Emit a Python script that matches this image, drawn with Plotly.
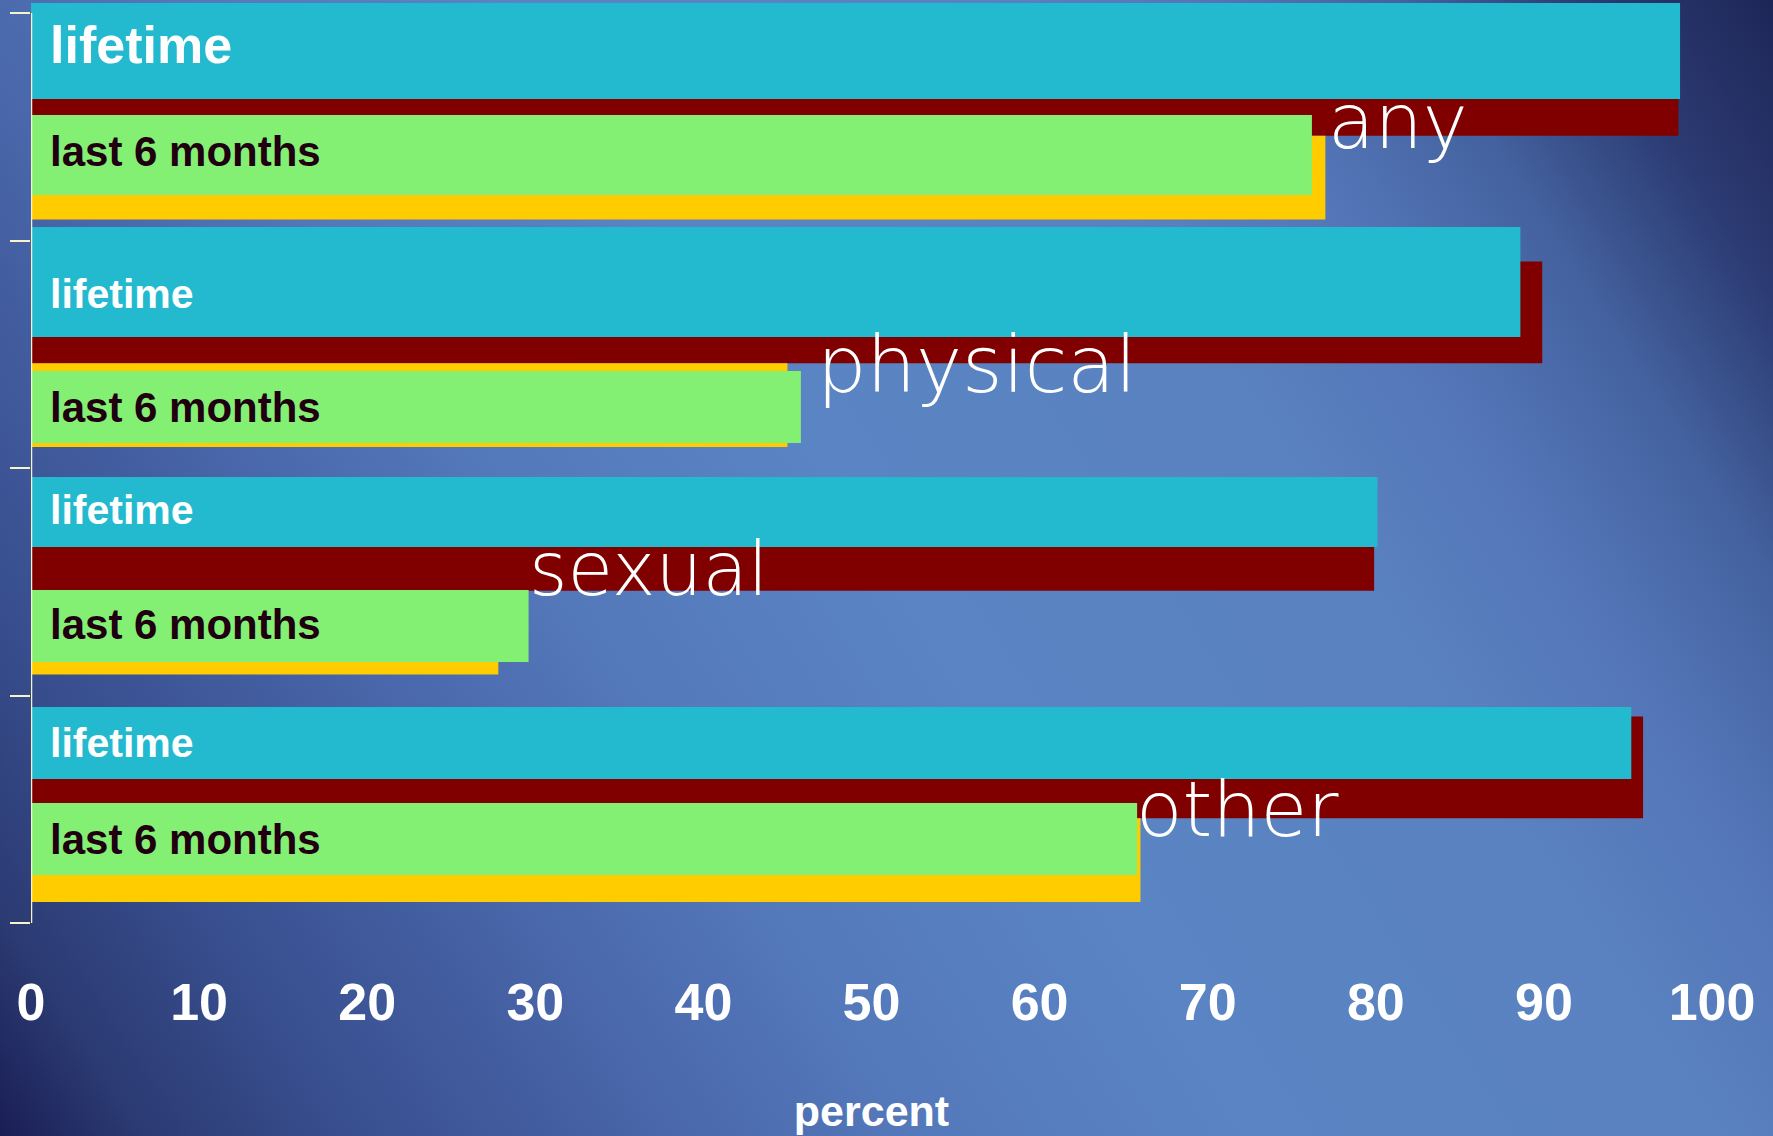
import base64
import plotly.graph_objects as go

# ---------------- data ----------------
categories = ["any", "physical", "sexual", "other"]
series_names = ["lifetime", "last 6 months"]
# back chart (dark red = lifetime, yellow = last 6 months)
lifetime_back = [98.0, 89.9, 79.9, 95.9]
last6_back = [77.0, 45.0, 27.8, 66.0]
# front boxes (cyan = lifetime, green = last 6 months)
lifetime_front = [98.1, 88.6, 80.1, 95.2]
last6_front = [76.2, 45.8, 29.6, 65.8]
x_tick_values = [0, 10, 20, 30, 40, 50, 60, 70, 80, 90, 100]
x_tick_labels = ["0", "10", "20", "30", "40", "50", "60", "70", "80", "90", "100"]
x_title = "percent"

# ---------------- layout geometry / style ----------------
W, H = 1773, 1136
ML, MR, MT, MB = 31, 61, 0, 213
PW, PH = W - ML - MR, H - MT - MB
BAND_PX = 227.5                      # pixel height of one category band
TOP_EXTRA = 13 / BAND_PX             # room above first band for the top box

C_RED, C_YEL, C_CYAN, C_GREEN = "#800000", "#FFCC00", "#23BAD0", "#84F073"
C_AXIS = "#F8F4C8"
C_DARKTXT = "#200010"

# bar placement inside each category band (category units, band = 1)
red_off, red_w = -0.408, 0.448
yel_off, yel_w = 0.040, 0.368
cyan_off = [-0.544, -0.559, -0.460, -0.449]
cyan_w = [0.422, 0.483, 0.307, 0.316]
green_off = [-0.052, 0.074, 0.036, -0.027]
green_w = [0.352, 0.316, 0.317, 0.316]

life_lbl_dy = [-0.359, -0.263, -0.315, -0.293]
life_lbl_size = [52, 41, 41, 41]
last_lbl_dy = [0.107, 0.234, 0.186, 0.131]
cat_lbl_dy = [-0.025, 0.047, -0.056, -0.001]
cat_lbl_size = [76, 78, 74, 76]
cat_lbl_xshift = [1, 14, -2, -6]

fig = go.Figure()
fig.add_bar(y=categories, x=lifetime_back, orientation="h", name=series_names[0],
            marker=dict(color=C_RED, line=dict(width=0)), offset=red_off, width=red_w,
            hoverinfo="x+y+name")
fig.add_bar(y=categories, x=last6_back, orientation="h", name=series_names[1],
            marker=dict(color=C_YEL, line=dict(width=0)), offset=yel_off, width=yel_w,
            hoverinfo="x+y+name")
fig.add_bar(y=categories, x=lifetime_front, orientation="h", name=series_names[0],
            marker=dict(color=C_CYAN, line=dict(width=0)), offset=cyan_off, width=cyan_w,
            hoverinfo="x+y+name")
fig.add_bar(y=categories, x=last6_front, orientation="h", name=series_names[1],
            marker=dict(color=C_GREEN, line=dict(width=0)), offset=green_off, width=green_w,
            hoverinfo="x+y+name")

annotations = []
for i, cat in enumerate(categories):
    annotations.append(dict(
        x=0, y=i + life_lbl_dy[i], xref="x", yref="y", text=series_names[0],
        xanchor="left", yanchor="middle", xshift=17, showarrow=False,
        font=dict(family="Liberation Sans, Arial", size=life_lbl_size[i], color="white", weight="bold")))
    annotations.append(dict(
        x=0, y=i + last_lbl_dy[i], xref="x", yref="y", text=series_names[1],
        xanchor="left", yanchor="middle", xshift=17, showarrow=False,
        font=dict(family="Liberation Sans, Arial", size=42, color=C_DARKTXT, weight="bold")))
    annotations.append(dict(
        x=max(last6_back[i], last6_front[i]), y=i + cat_lbl_dy[i], xref="x", yref="y", text=cat,
        xanchor="left", yanchor="middle", xshift=cat_lbl_xshift[i], showarrow=False,
        font=dict(family="DejaVu Sans", size=cat_lbl_size[i], color="white", weight=200)))

# axis line spanning the category bands only
shapes = [dict(type="line", xref="x", yref="y", x0=0, x1=0, y0=-0.5, y1=len(categories) - 0.5,
               line=dict(color=C_AXIS, width=2.5), layer="above")]

# gradient background as an SVG image
stops = [(0.0, "#191C53"), (0.06, "#2B3A72"), (0.14, "#384E8E"), (0.27, "#4967AA"),
         (0.37, "#5479BB"), (0.5, "#5A84C3"), (0.68, "#5A82C0"), (0.77, "#5476B8"),
         (0.85, "#43619E"), (0.92, "#2C3B73"), (1.0, "#1D2556")]
stop_xml = "".join(f'<stop offset="{o}" stop-color="{c}"/>' for o, c in stops)
svg = (f'<svg xmlns="http://www.w3.org/2000/svg" width="{W}" height="{H}" viewBox="0 0 {W} {H}" '
       f'preserveAspectRatio="none"><defs><linearGradient id="g" gradientUnits="userSpaceOnUse" '
       f'x1="0" y1="{H}" x2="{W}" y2="0">{stop_xml}</linearGradient></defs>'
       f'<rect x="0" y="0" width="{W}" height="{H}" fill="url(#g)"/></svg>')
src = "data:image/svg+xml;base64," + base64.b64encode(svg.encode()).decode()
pad = 6  # px of overscan so no paper colour shows at the edges

fig.update_layout(
    width=W, height=H,
    margin=dict(l=ML, r=MR, t=MT, b=MB, pad=0),
    paper_bgcolor="#3A5590", plot_bgcolor="rgba(0,0,0,0)",
    barmode="overlay", showlegend=False,
    images=[dict(source=src, xref="paper", yref="paper",
                 x=-(ML + pad) / PW, y=1 + (MT + pad) / PH,
                 sizex=(W + 2 * pad) / PW, sizey=(H + 2 * pad) / PH,
                 xanchor="left", yanchor="top", sizing="stretch", layer="below")],
    annotations=annotations,
    shapes=shapes,
    xaxis=dict(range=[0, 100], tickmode="array", tickvals=x_tick_values, ticktext=x_tick_labels,
               showgrid=False, zeroline=False, showline=False, ticks="",
               ticklabelstandoff=44,
               tickfont=dict(family="Liberation Sans, Arial", size=52, color="white", weight="bold"),
               title=dict(text=x_title, standoff=65,
                          font=dict(family="Liberation Sans, Arial", size=43, color="white", weight="bold"))),
    yaxis=dict(type="category", categoryorder="array", categoryarray=categories,
               range=[len(categories) - 0.5, -0.5 - TOP_EXTRA],
               tickmode="array", tickvals=[k - 0.5 for k in range(len(categories) + 1)],
               ticktext=[""] * (len(categories) + 1),
               ticks="outside", ticklen=20, tickwidth=2, tickcolor=C_AXIS,
               showline=False, showticklabels=False, showgrid=False, zeroline=False),
)

fig.write_html("out.html")
